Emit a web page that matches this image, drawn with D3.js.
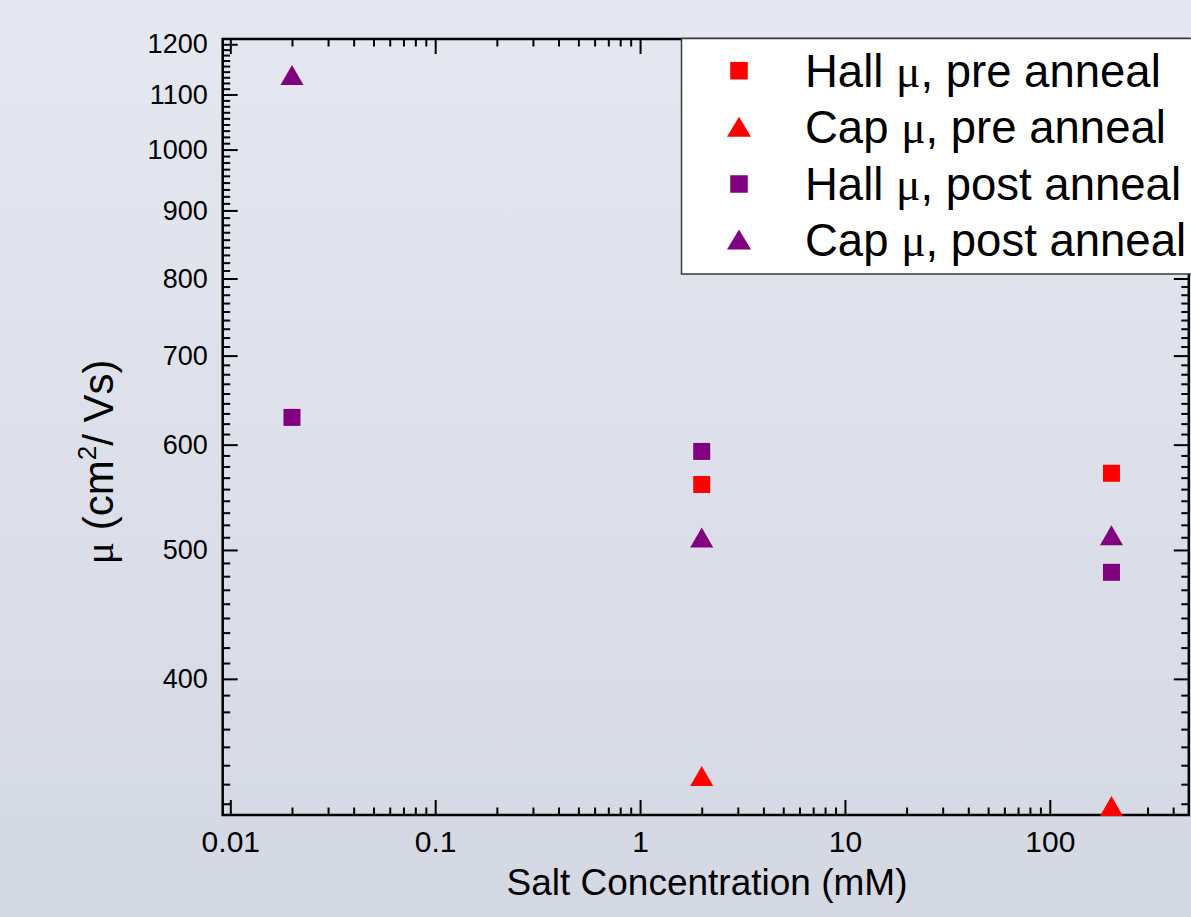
<!DOCTYPE html>
<html>
<head>
<meta charset="utf-8">
<script src="https://cdn.jsdelivr.net/npm/d3@7"></script>
<style>
html,body{margin:0;padding:0;background:#fff;}
svg{display:block;}
text{font-family:Arial,"Liberation Sans",sans-serif;fill:#000;}
</style>
</head>
<body>
<svg id="chart" width="1191" height="917"></svg>
<script>
// ---- data ----
const concentrations = [0.02, 2, 200];          // Salt concentration (mM)
const hallPre  = [null, 560, 571];               // Hall mu, pre anneal
const capPre   = [null, 338, 321];               // Cap mu, pre anneal
const hallPost = [629, 593, 481];                // Hall mu, post anneal
const capPost  = [1138, 511, 513];               // Cap mu, post anneal
const seriesNames  = ["Hall", "Cap", "Hall", "Cap"];
const seriesSuffix = [", pre anneal", ", pre anneal", ", post anneal", ", post anneal"];
const seriesColors = ["#ff0000", "#ff0000", "#800080", "#800080"];
const seriesShapes = ["square", "triangle", "square", "triangle"];
const xMajorTicks = [0.01, 0.1, 1, 10, 100];
const xTickLabels = ["0.01", "0.1", "1", "10", "100"];
const yMajorTicks = [400, 500, 600, 700, 800, 900, 1000, 1100, 1200];
const xTitle = "Salt Concentration (mM)";

const series = [hallPre, capPre, hallPost, capPost];

const svg = d3.select("#chart");
const W = 1191, H = 917;

// background gradient
const defs = svg.append("defs");
const grad = defs.append("linearGradient").attr("id","bg").attr("x1",0).attr("y1",0).attr("x2",0).attr("y2",1);
grad.append("stop").attr("offset","0%").attr("stop-color","#e5e8f1");
grad.append("stop").attr("offset","100%").attr("stop-color","#d4d8e2");
svg.append("rect").attr("width",W).attr("height",H).attr("fill","url(#bg)");

const L = 222.7, R = 1188.8, T = 39, B = 815;
const x = d3.scaleLog().domain([0.00918, 477]).range([L, R]);
const y = d3.scaleLog().domain([316, 1211]).range([B, T]);

// minor ticks
const xMinor = [];
for (let e = -3; e <= 3; e++) for (let m = 2; m <= 9; m++) {
  const v = m * Math.pow(10, e);
  if (v > x.domain()[0] && v < x.domain()[1]) xMinor.push(v);
}
const yMinor = [];
for (let a = 300; a < 1300; a += 100) for (let k = 1; k <= 8; k++) {
  const v = a + 100 * k / 9;
  if (v > y.domain()[0] && v < y.domain()[1]) yMinor.push(v);
}

const MAJ = 15, MIN = 7.5, SW = 2;
function styleAxis(g) {
  g.select(".domain").remove();
  g.selectAll(".tick line").attr("stroke","#000").attr("stroke-width",SW);
}

// bottom axis
svg.append("g").attr("transform",`translate(0,${B})`)
  .call(d3.axisBottom(x).tickValues(xMinor).tickSizeInner(-MIN).tickSizeOuter(0).tickFormat(""))
  .call(styleAxis);
svg.append("g").attr("transform",`translate(0,${B})`)
  .call(d3.axisBottom(x).tickValues(xMajorTicks).tickSizeInner(-MAJ).tickSizeOuter(0).tickPadding(16)
        .tickFormat((d,i) => xTickLabels[i]))
  .call(styleAxis)
  .call(g => g.selectAll("text").attr("font-size",30).attr("font-family","Arial, 'Liberation Sans', sans-serif").attr("fill","#000"));
// top axis
svg.append("g").attr("transform",`translate(0,${T})`)
  .call(d3.axisTop(x).tickValues(xMinor).tickSizeInner(-MIN).tickSizeOuter(0).tickFormat(""))
  .call(styleAxis);
svg.append("g").attr("transform",`translate(0,${T})`)
  .call(d3.axisTop(x).tickValues(xMajorTicks).tickSizeInner(-MAJ).tickSizeOuter(0).tickFormat(""))
  .call(styleAxis);
// left axis
svg.append("g").attr("transform",`translate(${L},0)`)
  .call(d3.axisLeft(y).tickValues(yMinor).tickSizeInner(-MIN).tickSizeOuter(0).tickFormat(""))
  .call(styleAxis);
svg.append("g").attr("transform",`translate(${L},0)`)
  .call(d3.axisLeft(y).tickValues(yMajorTicks).tickSizeInner(-MAJ).tickSizeOuter(0).tickPadding(15)
        .tickFormat(d3.format("d")))
  .call(styleAxis)
  .call(g => g.selectAll("text").attr("font-size",27).attr("font-family","Arial, 'Liberation Sans', sans-serif").attr("fill","#000"));
// right axis
svg.append("g").attr("transform",`translate(${R},0)`)
  .call(d3.axisRight(y).tickValues(yMinor).tickSizeInner(-MIN).tickSizeOuter(0).tickFormat(""))
  .call(styleAxis);
svg.append("g").attr("transform",`translate(${R},0)`)
  .call(d3.axisRight(y).tickValues(yMajorTicks).tickSizeInner(-MAJ).tickSizeOuter(0).tickFormat(""))
  .call(styleAxis);

// frame
svg.append("rect").attr("x",L).attr("y",T).attr("width",R-L).attr("height",B-T)
  .attr("fill","none").attr("stroke","#000").attr("stroke-width",2.5);

// markers
const SQ = 17, TW = 23, TH = 20;
function drawMarker(g, shape, cx, cy, color, sq, tw, th) {
  if (shape === "square") {
    g.append("rect").attr("x",cx - sq/2).attr("y",cy - sq/2).attr("width",sq).attr("height",sq).attr("fill",color);
  } else {
    g.append("path").attr("d",`M${cx},${cy - th/2}L${cx + tw/2},${cy + th/2}L${cx - tw/2},${cy + th/2}Z`).attr("fill",color);
  }
}
const marks = svg.append("g");
series.forEach((vals, si) => {
  vals.forEach((v, i) => {
    if (v == null) return;
    drawMarker(marks, seriesShapes[si], x(concentrations[i]), y(v), seriesColors[si], SQ, TW, TH);
  });
});

// legend
const lg = svg.append("g");
lg.append("rect").attr("x",681.5).attr("y",38.5).attr("width",530).attr("height",235.5)
  .attr("fill","#fff").attr("stroke","#3a3a3a").attr("stroke-width",1.5);
const rowY = [70.7, 126.7, 184, 239.5];
seriesNames.forEach((name, i) => {
  drawMarker(lg, seriesShapes[i], 739, rowY[i], seriesColors[i], 17.5, 24, 20);
  const t = lg.append("text").attr("x",805).attr("y",rowY[i] + 16).attr("font-size",45.5);
  t.append("tspan").text(name + " ");
  t.append("tspan").attr("font-family","'Liberation Serif','Times New Roman',serif").text("\u03bc");
  t.append("tspan").text(seriesSuffix[i]);
});

// axis titles
svg.append("text").attr("x",707).attr("y",895).attr("text-anchor","middle").attr("font-size",37).text(xTitle);
const yt = svg.append("text").attr("transform","translate(113,462) rotate(-90)").attr("text-anchor","middle").attr("font-size",42);
yt.append("tspan").attr("font-family","'Liberation Serif','Times New Roman',serif").text("\u03bc");
yt.append("tspan").text(" (cm");
yt.append("tspan").attr("font-size",26).attr("dy",-17).text("2");
yt.append("tspan").attr("dy",17).text("/ Vs)");
</script>
</body>
</html>
